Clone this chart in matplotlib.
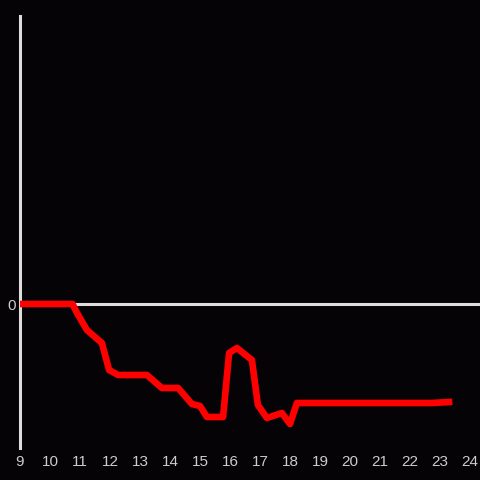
import matplotlib
matplotlib.use("Agg")
import matplotlib.pyplot as plt

hora = [9.0, 10.75, 10.9, 11.23, 11.73, 11.97, 12.27, 13.23, 13.73, 14.27,
        14.73, 15.0, 15.23, 15.77, 15.97, 16.23, 16.73, 16.93, 17.23, 17.73,
        18.0, 18.23, 18.73, 20.0, 21.0, 22.0, 22.73, 23.3]
valor = [0, 0, -9, -26, -39, -66, -71, -71, -84, -84,
         -100, -102, -113, -113, -49, -44, -56, -101, -114, -109,
         -120, -99, -99, -99, -99, -99, -99, -98]
xticks = list(range(9, 25))

fondo = "#050305"
gris = "#dddddd"

plt.rcParams["font.family"] = ["Liberation Sans", "DejaVu Sans"]

fig = plt.figure(figsize=(4.8, 4.8), dpi=100, facecolor=fondo)
ax = fig.add_axes([20 / 480, 32 / 480, 460 / 480, 432 / 480])
ax.set_facecolor(fondo)

ax.axhline(0, color=gris, linewidth=2.2, zorder=1)
ax.plot(hora, valor, color="#ff0000", linewidth=4.8, zorder=3)

ax.set_xlim(9, 9 + 460 / 30)
ax.set_ylim(-144, 288)
ax.set_xticks(xticks)
ax.set_yticks([0])

for s in ["top", "right", "bottom"]:
    ax.spines[s].set_visible(False)
ax.spines["left"].set_color(gris)
ax.spines["left"].set_linewidth(2.2)

ax.tick_params(axis="both", length=0, colors="#cccccc", labelsize=11)
ax.tick_params(axis="x", pad=5)
ax.tick_params(axis="y", pad=3)

fig.savefig("out.png", dpi=100, facecolor=fondo)
